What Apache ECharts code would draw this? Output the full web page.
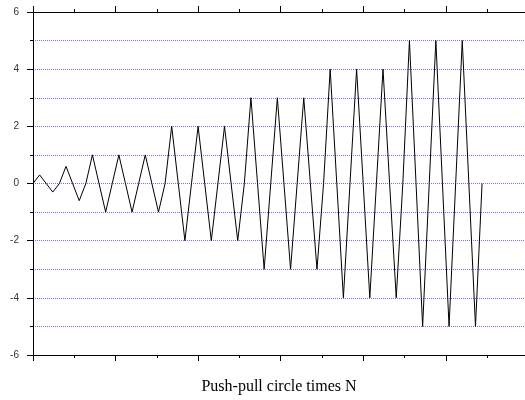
<!DOCTYPE html>
<html>
<head>
<meta charset="utf-8">
<script src="https://cdn.jsdelivr.net/npm/echarts@6/dist/echarts.min.js"></script>
<style>
html,body{margin:0;padding:0;background:#fff;}
#c{width:525px;height:400px;}
</style>
</head>
<body>
<div id="c"></div>
<script>
// Data: push-pull signal sampled at successive steps
const values = [
  0, 0.3, 0, -0.3, 0, 0.6, 0, -0.6, 0,
  1, 0, -1, 0, 1, 0, -1, 0, 1, 0, -1, 0,
  2, 0, -2, 0, 2, 0, -2, 0, 2, 0, -2, 0,
  3, 0, -3, 0, 3, 0, -3, 0, 3, 0, -3, 0,
  4, 0, -4, 0, 4, 0, -4, 0, 4, 0, -4, 0,
  5, 0, -5, 0, 5, 0, -5, 0, 5, 0, -5, 0
];
const yTicks = [-6, -4, -2, 0, 2, 4, 6];
const xTitle = 'Push-pull circle times N';

const seriesData = values.map((v, i) => [i, v]);
const gridColor = 'rgb(110,110,255)';

const xBase = {
  type: 'value', min: 0, max: 74.5, interval: 12.5,
  axisLine: { show: true, onZero: false, lineStyle: { color: '#000', width: 1 } },
  axisTick: { show: true, inside: false, length: 6, lineStyle: { color: '#000' } },
  minorTick: { show: true, splitNumber: 2, length: 3, lineStyle: { color: '#000' } },
  axisLabel: { show: false },
  splitLine: { show: false }
};

const chart = echarts.init(document.getElementById('c'), null, { renderer: 'canvas' });
chart.setOption({
  animation: false,
  backgroundColor: '#fff',
  grid: { left: 33, top: 12, right: 0, bottom: 45, containLabel: false, outerBoundsMode: 'none' },
  xAxis: [
    Object.assign({}, xBase, {
      position: 'bottom',
      name: xTitle, nameLocation: 'middle', nameGap: 24,
      nameTextStyle: { fontFamily: 'Liberation Serif', fontSize: 16, color: '#000' }
    }),
    Object.assign({}, xBase, { position: 'top' })
  ],
  yAxis: {
    type: 'value', min: yTicks[0], max: yTicks[yTicks.length - 1], interval: 2,
    axisLine: { show: true, onZero: false, lineStyle: { color: '#000', width: 1 } },
    axisTick: { show: true, length: 6, lineStyle: { color: '#000' } },
    minorTick: { show: true, splitNumber: 2, length: 3, lineStyle: { color: '#000' } },
    axisLabel: { margin: 14, fontFamily: 'Liberation Sans', fontSize: 10, color: '#333' },
    splitLine: { show: true, lineStyle: { color: gridColor, type: [1, 1], width: 1 } },
    minorSplitLine: { show: true, lineStyle: { color: gridColor, type: [1, 1], width: 1 } }
  },
  series: [{
    type: 'line',
    data: seriesData,
    showSymbol: false,
    symbol: 'none',
    lineStyle: { color: '#000', width: 1 },
    itemStyle: { color: '#000' }
  }]
});
</script>
</body>
</html>
